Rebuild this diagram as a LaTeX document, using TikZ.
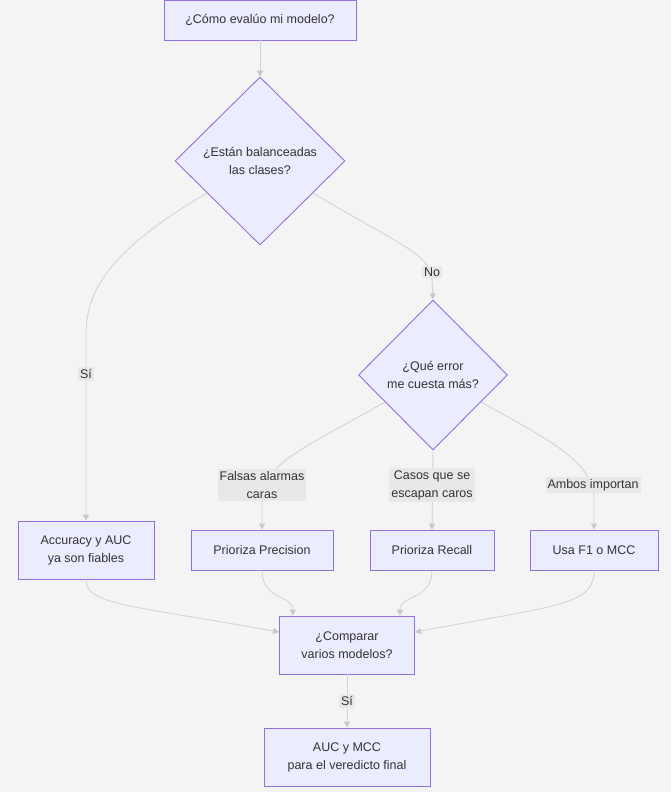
\documentclass[tikz,border=0pt]{standalone}
\usepackage{fontspec}
\setmainfont{Liberation Sans}
\usetikzlibrary{shapes.geometric,arrows.meta,calc}
\definecolor{nodefill}{HTML}{ECECFF}
\definecolor{nodeline}{HTML}{9370DB}
\definecolor{edge}{HTML}{D3D3D3}
\definecolor{tip}{HTML}{C8C8C8}
\definecolor{txt}{HTML}{333333}
\definecolor{bg}{HTML}{F4F4F4}
\definecolor{lbl}{HTML}{E8E8E8}
\tikzset{
  box/.style={draw=nodeline, fill=nodefill, line width=0.9pt, inner sep=0pt, align=center, text=txt, font=\fontsize{12.5}{18}\selectfont},
  dec/.style={diamond, draw=nodeline, fill=nodefill, line width=0.9pt, inner sep=0pt, align=center, text=txt, font=\fontsize{12.5}{18}\selectfont},
  conn/.style={draw=edge, line width=0.9pt, -{Triangle[length=6pt,width=6pt,fill=tip,color=tip]}},
  elabel/.style={fill=lbl, inner sep=2pt, align=center, text=txt, font=\fontsize{12.5}{18}\selectfont},
}
\begin{document}
\begin{tikzpicture}[x=1pt,y=-1pt]
\fill[bg] (0,0) rectangle (671,792);
\useasboundingbox (0,0) rectangle (671,792);

\node[box, minimum width=192pt, minimum height=40pt] (start) at (260,20) {¿Cómo evalúo mi modelo?};
\node[dec, minimum width=170pt, minimum height=168pt] (d1) at (260,161) {¿Están balanceadas\\las clases?};
\node[dec, minimum width=149pt, minimum height=150pt] (d2) at (433,375) {¿Qué error\\me cuesta más?};
\node[box, minimum width=136pt, minimum height=58pt] (acc) at (86,550) {Accuracy y AUC\\ya son fiables};
\node[box, minimum width=142pt, minimum height=40pt] (prec) at (262,550) {Prioriza Precision};
\node[box, minimum width=124pt, minimum height=40pt] (rec) at (432,550) {Prioriza Recall};
\node[box, minimum width=128pt, minimum height=40pt] (f1) at (594,550) {Usa F1 o MCC};
\node[box, minimum width=135pt, minimum height=58pt] (cmp) at (347,645) {¿Comparar\\varios modelos?};
\node[box, minimum width=166pt, minimum height=58pt] (fin) at (347,757) {AUC y MCC\\para el veredicto final};

% edges
\draw[conn] (start) -- (d1.north);

\coordinate (d1l) at ($(d1.west)!0.38!(d1.south)$);
\coordinate (d1r) at ($(d1.east)!0.38!(d1.south)$);
\draw[conn] (d1l) .. controls (110,250) and (86,290) .. (86,335) -- (acc.north);
\draw[conn] (d1r) .. controls (400,245) and (432,255) .. (432,280) -- (d2.north);

\coordinate (d2l) at ($(d2.west)!0.36!(d2.south)$);
\coordinate (d2r) at ($(d2.east)!0.36!(d2.south)$);
\draw[conn] (d2l) .. controls (300,450) and (262,465) .. (262,500) -- (prec.north);
\draw[conn] (d2.south) -- (rec.north);
\draw[conn] (d2r) .. controls (560,445) and (594,465) .. (594,500) -- (f1.north);

\coordinate (cmpa) at ($(cmp.north west)!0.1!(cmp.north east)$);
\coordinate (cmpb) at ($(cmp.north west)!0.89!(cmp.north east)$);
\coordinate (cmpl) at ($(cmp.north west)!0.28!(cmp.south west)$);
\coordinate (cmpr) at ($(cmp.north east)!0.28!(cmp.south east)$);
\draw[conn] (acc.south) .. controls (86,605) and (130,605) .. (cmpl);
\draw[conn] (prec.south) .. controls (262,600) and (293,595) .. (cmpa);
\draw[conn] (rec.south) .. controls (432,600) and (400,595) .. (cmpb);
\draw[conn] (f1.south) .. controls (594,605) and (560,605) .. (cmpr);
\draw[conn] (cmp.south) -- (fin.north);

% labels
\node[elabel] (lsi) at (86,374) {Sí};
\node[elabel] (lno) at (432,272) {No};
\node[elabel] (lfa) at (262,485) {Falsas alarmas\\caras};
\node[elabel] (lce) at (432,485) {Casos que se\\escapan caros};
\node[elabel] (lam) at (593,485) {Ambos importan};
\node[elabel] (lsi2) at (347,701) {Sí};
\end{tikzpicture}
\end{document}
